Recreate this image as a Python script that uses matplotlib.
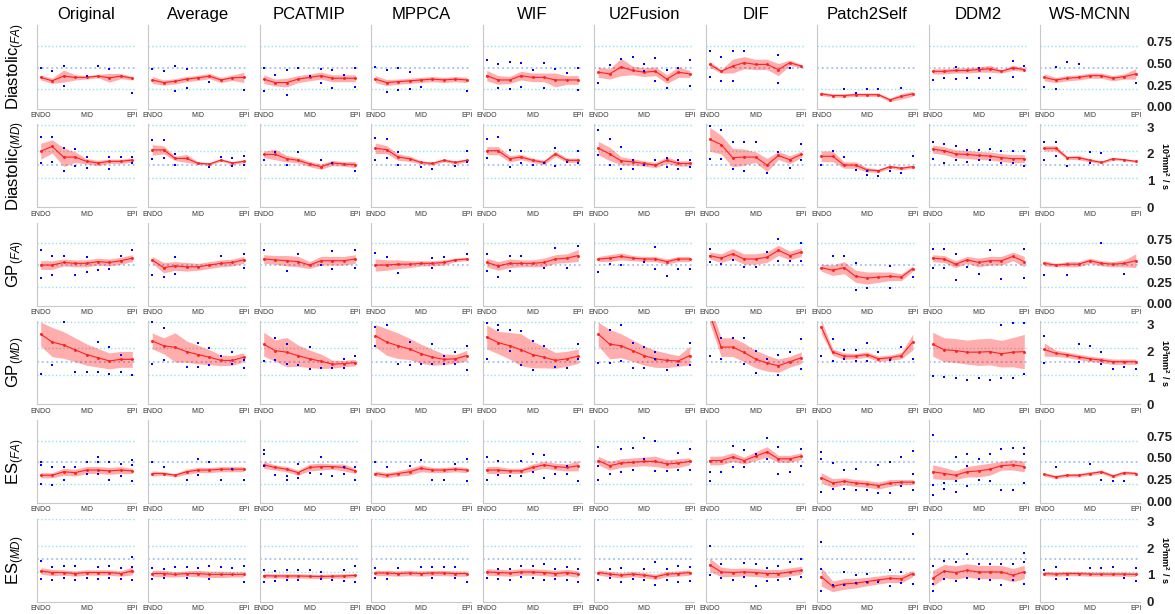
import numpy as np
import matplotlib
matplotlib.use("Agg")
import matplotlib.pyplot as plt

plt.rcParams['font.family'] = ['Liberation Sans', 'DejaVu Sans']
plt.rcParams['mathtext.fontset'] = 'custom'
plt.rcParams['mathtext.rm'] = 'Liberation Sans'
plt.rcParams['mathtext.it'] = 'Liberation Sans:italic'
plt.rcParams['mathtext.bf'] = 'Liberation Sans:bold'

METHODS = ['Original', 'Average', 'PCATMIP', 'MPPCA', 'WIF', 'U2Fusion', 'DIF',
           'Patch2Self', 'DDM2', 'WS-MCNN']
ROW_LABELS = ['Diastolic$_{(FA)}$', 'Diastolic$_{(MD)}$', 'GP$_{(FA)}$', 'GP$_{(MD)}$',
              'ES$_{(FA)}$', 'ES$_{(MD)}$']
ROW_KIND = ['FA', 'MD', 'FA', 'MD', 'FA', 'MD']
POSITIONS = np.arange(9)
XTICK_LABELS = ['ENDO', 'MID', 'EPI']

# reference levels (dotted lines) and right side labels
FA_REF = [0.2, 0.45, 0.7]
MD_REF = [1.1, 1.6, 2.1, 3.1]
FA_TICKS = [0.0, 0.25, 0.5, 0.75]
FA_TICKLABELS = ['0.00', '0.25', '0.50', '0.75']
MD_TICKS = [0, 1, 2, 3]
MD_TICKLABELS = ['0', '1', '2', '3']

# ---- Diastolic FA ----
DIA_FA_MEAN = [
    [0.34, 0.30, 0.355, 0.34, 0.34, 0.355, 0.335, 0.355, 0.33],
    [0.31, 0.28, 0.295, 0.32, 0.335, 0.355, 0.31, 0.335, 0.34],
    [0.32, 0.28, 0.28, 0.32, 0.34, 0.36, 0.33, 0.33, 0.33],
    [0.32, 0.28, 0.29, 0.30, 0.31, 0.32, 0.31, 0.32, 0.31],
    [0.36, 0.31, 0.31, 0.36, 0.34, 0.34, 0.31, 0.31, 0.31],
    [0.40, 0.38, 0.46, 0.42, 0.40, 0.41, 0.32, 0.40, 0.38],
    [0.49, 0.41, 0.47, 0.51, 0.49, 0.49, 0.43, 0.51, 0.47],
    [0.15, 0.13, 0.13, 0.14, 0.14, 0.14, 0.08, 0.12, 0.15],
    [0.41, 0.41, 0.42, 0.42, 0.43, 0.44, 0.41, 0.45, 0.43],
    [0.34, 0.31, 0.33, 0.34, 0.36, 0.36, 0.33, 0.35, 0.38],
]
DIA_FA_STD = [
    [0.03, 0.03, 0.07, 0.03, 0.02, 0.02, 0.05, 0.03, 0.02],
    [0.04, 0.03, 0.03, 0.03, 0.03, 0.03, 0.03, 0.03, 0.06],
    [0.05, 0.04, 0.05, 0.04, 0.04, 0.04, 0.04, 0.04, 0.04],
    [0.04, 0.035, 0.03, 0.03, 0.03, 0.03, 0.03, 0.03, 0.03],
    [0.06, 0.05, 0.04, 0.05, 0.05, 0.05, 0.08, 0.05, 0.05],
    [0.06, 0.06, 0.10, 0.05, 0.05, 0.05, 0.05, 0.06, 0.04],
    [0.035, 0.02, 0.08, 0.07, 0.06, 0.06, 0.07, 0.03, 0.02],
    [0.02, 0.02, 0.02, 0.02, 0.02, 0.02, 0.02, 0.03, 0.03],
    [0.03, 0.03, 0.03, 0.03, 0.03, 0.04, 0.02, 0.03, 0.02],
    [0.04, 0.03, 0.03, 0.03, 0.03, 0.03, 0.03, 0.03, 0.06],
]
DIA_FA_PTS = [
    [(0, .45), (1, .41), (2, .47), (2, .24), (4, .36), (5, .47), (6, .44), (8, .16)],
    [(0, .44), (1, .41), (2, .47), (2, .18), (3, .44), (3, .22), (5, .29), (8, .19)],
    [(0, .45), (0, .18), (1, .37), (2, .42), (2, .14), (3, .45), (4, .36), (5, .44), (5, .28),
     (6, .43), (6, .22), (7, .37), (8, .45), (8, .23)],
    [(0, .46), (1, .43), (1, .17), (2, .45), (2, .19), (3, .40), (3, .21), (4, .23), (8, .18)],
    [(0, .54), (1, .49), (1, .22), (2, .52), (2, .20), (3, .51), (3, .23), (4, .43), (5, .51),
     (5, .22), (6, .44), (7, .39), (8, .45), (8, .19)],
    [(0, .28), (1, .48), (2, .55), (3, .57), (4, .49), (4, .41), (5, .56), (5, .30), (6, .42),
     (6, .22), (7, .45), (8, .54), (8, .24)],
    [(0, .64), (0, .34), (1, .57), (1, .30), (2, .64), (2, .30), (3, .65), (6, .60), (6, .27),
     (7, .45)],
    [(2, .21), (3, .16), (4, .21), (5, .21), (7, .22)],
    [(0, .31), (1, .33), (2, .46), (2, .32), (3, .33), (4, .45), (4, .33), (5, .33), (7, .53),
     (7, .34), (8, .47)],
    [(0, .23), (1, .46), (1, .21), (2, .52), (3, .50), (8, .27)],
]

# ---- Diastolic MD ----
DIA_MD_MEAN = [
    [2.10, 2.28, 1.88, 1.88, 1.72, 1.66, 1.72, 1.72, 1.77],
    [2.15, 2.15, 1.83, 1.83, 1.65, 1.62, 1.77, 1.66, 1.72],
    [1.98, 1.98, 1.82, 1.76, 1.62, 1.52, 1.66, 1.62, 1.60],
    [2.21, 2.16, 1.88, 1.82, 1.68, 1.64, 1.76, 1.68, 1.76],
    [2.12, 2.12, 1.82, 1.88, 1.76, 1.68, 2.00, 1.76, 1.76],
    [2.22, 2.00, 1.74, 1.70, 1.64, 1.58, 1.76, 1.64, 1.64],
    [2.55, 2.35, 1.86, 1.88, 1.88, 1.58, 1.94, 1.78, 1.98],
    [1.91, 1.91, 1.58, 1.58, 1.40, 1.37, 1.52, 1.46, 1.52],
    [2.18, 2.12, 2.00, 1.98, 1.94, 1.92, 1.86, 1.82, 1.82],
    [2.21, 2.21, 1.86, 1.86, 1.76, 1.68, 1.82, 1.78, 1.72],
]
DIA_MD_STD = [
    [0.30, 0.25, 0.35, 0.20, 0.10, 0.10, 0.08, 0.08, 0.08],
    [0.20, 0.15, 0.08, 0.15, 0.05, 0.05, 0.05, 0.05, 0.06],
    [0.12, 0.20, 0.12, 0.10, 0.10, 0.10, 0.10, 0.08, 0.12],
    [0.20, 0.15, 0.12, 0.10, 0.06, 0.06, 0.06, 0.06, 0.06],
    [0.15, 0.15, 0.12, 0.10, 0.08, 0.08, 0.10, 0.08, 0.08],
    [0.25, 0.25, 0.15, 0.12, 0.10, 0.10, 0.12, 0.10, 0.10],
    [0.45, 0.35, 0.35, 0.30, 0.20, 0.25, 0.15, 0.15, 0.12],
    [0.20, 0.20, 0.12, 0.12, 0.08, 0.06, 0.06, 0.06, 0.06],
    [0.15, 0.15, 0.15, 0.15, 0.15, 0.15, 0.15, 0.15, 0.15],
    [0.10, 0.10, 0.06, 0.08, 0.06, 0.05, 0.05, 0.04, 0.04],
]
DIA_MD_PTS = [
    [(0, 2.64), (0, 1.64), (1, 2.64), (1, 1.69), (2, 2.23), (2, 1.34), (3, 2.17), (3, 1.53),
     (4, 1.90), (4, 1.48), (6, 1.87), (6, 1.45), (7, 1.87), (8, 1.87), (8, 1.64)],
    [(0, 2.54), (0, 1.80), (1, 2.54), (1, 1.85), (2, 1.99), (2, 1.60), (5, 1.50), (6, 1.89),
     (7, 1.83), (7, 1.54), (8, 1.93), (8, 1.60)],
    [(0, 1.76), (1, 2.06), (2, 1.58), (3, 2.06), (5, 1.76), (6, 1.64), (8, 1.37)],
    [(0, 2.61), (0, 1.78), (1, 2.57), (1, 1.86), (2, 2.06), (2, 1.60), (4, 1.52), (5, 1.43),
     (7, 1.54), (8, 2.12), (8, 1.70)],
    [(0, 2.55), (0, 1.86), (1, 2.65), (2, 2.16), (2, 1.49), (3, 2.12), (3, 1.64), (4, 1.58),
     (5, 1.64), (6, 2.21), (6, 1.54), (7, 1.70), (8, 2.12), (8, 1.64)],
    [(0, 2.88), (0, 1.94), (1, 2.55), (1, 1.58), (2, 2.25), (2, 1.43), (3, 1.76), (3, 1.42),
     (4, 1.58), (5, 1.76), (6, 1.86), (6, 1.52), (7, 1.76), (7, 1.42), (8, 1.78), (8, 1.52)],
    [(0, 3.03), (0, 1.82), (1, 2.91), (1, 1.82), (2, 2.46), (2, 1.43), (3, 2.46), (3, 1.37),
     (4, 2.43), (5, 1.28), (6, 2.09), (7, 1.46), (8, 2.39), (8, 1.76)],
    [(0, 1.58), (1, 2.12), (2, 1.88), (3, 1.40), (4, 1.34), (4, 1.22), (5, 1.18), (6, 1.37),
     (7, 1.30), (8, 1.91)],
    [(0, 2.46), (0, 1.82), (1, 2.39), (1, 1.66), (2, 2.31), (2, 1.76), (3, 2.16), (3, 1.70),
     (4, 2.16), (4, 1.76), (5, 2.18), (5, 1.76), (6, 2.12), (6, 1.64), (7, 2.12), (7, 1.64),
     (8, 2.12), (8, 1.54)],
    [(0, 2.46), (0, 1.76), (1, 2.46), (1, 1.91), (2, 1.54), (4, 2.09), (4, 1.64), (5, 2.03)],
]

# ---- GP FA ----
GP_FA_MEAN = [
    [0.45, 0.45, 0.48, 0.47, 0.47, 0.49, 0.48, 0.50, 0.53],
    [0.51, 0.42, 0.44, 0.43, 0.43, 0.45, 0.47, 0.48, 0.51],
    [0.52, 0.51, 0.50, 0.49, 0.45, 0.50, 0.50, 0.50, 0.52],
    [0.45, 0.45, 0.46, 0.46, 0.47, 0.47, 0.48, 0.51, 0.52],
    [0.48, 0.44, 0.47, 0.47, 0.47, 0.48, 0.52, 0.53, 0.56],
    [0.52, 0.53, 0.55, 0.53, 0.52, 0.52, 0.49, 0.52, 0.52],
    [0.56, 0.53, 0.58, 0.52, 0.52, 0.54, 0.62, 0.56, 0.60],
    [0.42, 0.39, 0.42, 0.32, 0.30, 0.31, 0.32, 0.31, 0.41],
    [0.53, 0.52, 0.46, 0.51, 0.48, 0.50, 0.50, 0.55, 0.49],
    [0.47, 0.45, 0.46, 0.46, 0.50, 0.47, 0.46, 0.47, 0.50],
]
GP_FA_STD = [
    [0.05, 0.05, 0.04, 0.04, 0.04, 0.04, 0.04, 0.04, 0.04],
    [0.04, 0.06, 0.05, 0.05, 0.04, 0.04, 0.04, 0.04, 0.04],
    [0.05, 0.05, 0.06, 0.06, 0.04, 0.05, 0.05, 0.05, 0.05],
    [0.07, 0.06, 0.05, 0.04, 0.03, 0.03, 0.03, 0.02, 0.02],
    [0.05, 0.05, 0.05, 0.04, 0.04, 0.05, 0.05, 0.05, 0.07],
    [0.03, 0.04, 0.04, 0.03, 0.03, 0.03, 0.03, 0.03, 0.03],
    [0.04, 0.05, 0.06, 0.06, 0.06, 0.06, 0.06, 0.05, 0.05],
    [0.04, 0.06, 0.07, 0.07, 0.07, 0.06, 0.05, 0.04, 0.03],
    [0.04, 0.04, 0.04, 0.04, 0.05, 0.05, 0.05, 0.05, 0.06],
    [0.03, 0.02, 0.03, 0.03, 0.03, 0.03, 0.03, 0.04, 0.08],
]
GP_FA_PTS = [
    [(0, .63), (0, .30), (1, .55), (1, .34), (2, .56), (3, .33), (4, .54), (4, .37), (5, .39),
     (6, .40), (7, .56), (8, .62)],
    [(0, .34), (1, .31), (2, .54), (2, .35), (6, .56), (8, .58), (8, .42)],
    [(0, .63), (2, .38), (3, .58), (5, .45), (6, .61), (6, .41), (8, .63), (8, .42)],
    [(0, .59), (1, .54), (2, .36), (5, .53), (5, .42), (6, .54), (8, .58)],
    [(0, .58), (0, .38), (1, .31), (2, .56), (2, .38), (3, .56), (5, .42), (6, .65), (7, .42),
     (8, .67)],
    [(0, .37), (1, .46), (2, .45), (4, .48), (5, .66), (5, .41), (6, .32), (7, .40), (8, .40)],
    [(0, .64), (0, .49), (1, .46), (2, .51), (3, .43), (4, .43), (5, .60), (6, .75), (6, .50),
     (7, .50), (8, .70), (8, .50)],
    [(1, .55), (2, .55), (3, .47), (3, .16), (4, .18), (6, .44), (6, .18), (8, .31)],
    [(0, .64), (0, .42), (1, .64), (1, .42), (2, .58), (2, .28), (3, .43), (4, .35), (5, .62),
     (6, .29), (8, .64), (8, .30)],
    [(0, .34), (2, .34), (5, .70), (7, .35)],
]

# ---- GP MD ----
GP_MD_MEAN = [
    [2.64, 2.34, 2.23, 2.05, 1.87, 1.75, 1.63, 1.69, 1.69],
    [2.38, 2.20, 2.14, 1.98, 1.87, 1.77, 1.65, 1.65, 1.77],
    [2.26, 2.02, 1.96, 1.83, 1.71, 1.62, 1.51, 1.53, 1.57],
    [2.58, 2.34, 2.20, 2.08, 1.90, 1.77, 1.69, 1.71, 1.83],
    [2.53, 2.32, 2.20, 2.05, 1.87, 1.77, 1.65, 1.71, 1.81],
    [2.64, 2.26, 2.20, 2.02, 1.83, 1.71, 1.65, 1.63, 1.83],
    [3.40, 2.15, 2.15, 1.95, 1.70, 1.55, 1.45, 1.60, 1.75],
    [2.92, 1.96, 1.81, 1.81, 1.87, 1.71, 1.75, 1.83, 2.34],
    [2.26, 2.05, 2.02, 1.96, 1.96, 1.98, 1.90, 1.96, 1.98],
    [2.06, 1.92, 1.86, 1.78, 1.71, 1.66, 1.60, 1.60, 1.60],
]
GP_MD_STD = [
    [0.45, 0.55, 0.50, 0.45, 0.40, 0.35, 0.30, 0.30, 0.30],
    [0.30, 0.30, 0.55, 0.40, 0.35, 0.28, 0.20, 0.18, 0.17],
    [0.45, 0.40, 0.55, 0.40, 0.33, 0.27, 0.15, 0.12, 0.12],
    [0.42, 0.50, 0.48, 0.40, 0.36, 0.30, 0.20, 0.16, 0.20],
    [0.45, 0.42, 0.50, 0.60, 0.50, 0.40, 0.30, 0.28, 0.27],
    [0.45, 0.55, 0.45, 0.40, 0.36, 0.32, 0.27, 0.20, 0.35],
    [0.35, 0.35, 0.35, 0.35, 0.33, 0.30, 0.25, 0.20, 0.22],
    [0.25, 0.12, 0.12, 0.10, 0.10, 0.10, 0.10, 0.12, 0.30],
    [0.45, 0.45, 0.45, 0.45, 0.50, 0.50, 0.50, 0.55, 0.65],
    [0.25, 0.12, 0.10, 0.10, 0.10, 0.10, 0.10, 0.10, 0.10],
]
GP_MD_PTS = [
    [(0, 1.14), (1, 1.47), (2, 3.10), (3, 1.23), (4, 1.21), (5, 1.21), (5, 2.34), (6, 2.14),
     (6, 1.14), (7, 1.21), (7, 1.87), (8, 1.09)],
    [(0, 3.10), (0, 1.53), (1, 2.86), (1, 1.65), (3, 1.41), (4, 1.41), (4, 2.29), (5, 2.10),
     (5, 1.47), (6, 1.83), (7, 1.96), (7, 1.53), (8, 1.65), (8, 1.35)],
    [(0, 1.62), (1, 2.50), (1, 1.65), (2, 2.26), (2, 1.50), (3, 1.47), (4, 2.14), (4, 1.33),
     (5, 1.38), (6, 1.38), (7, 1.71), (7, 1.38), (8, 1.83)],
    [(0, 2.92), (0, 2.20), (1, 2.98), (2, 1.50), (3, 2.34), (3, 1.47), (4, 1.50), (5, 2.26),
     (5, 1.50), (6, 1.50), (6, 1.83), (7, 1.96), (7, 1.50), (8, 2.20), (8, 1.29)],
    [(0, 3.06), (0, 1.71), (1, 2.98), (1, 2.80), (2, 2.80), (2, 2.02), (3, 2.74), (3, 1.47),
     (4, 2.38), (4, 1.29), (5, 2.20), (6, 1.41), (7, 1.38), (8, 2.26), (8, 1.71)],
    [(0, 1.57), (1, 2.80), (1, 1.57), (2, 2.98), (2, 1.62), (3, 2.32), (3, 1.35), (4, 2.14),
     (4, 1.35), (5, 1.71), (5, 1.96), (6, 1.29), (7, 1.47), (8, 2.32), (8, 1.47)],
    [(0, 1.83), (1, 2.50), (1, 1.71), (2, 2.50), (3, 2.50), (3, 1.53), (4, 2.02), (4, 1.17),
     (5, 1.71), (6, 1.09), (6, 1.86), (7, 1.96), (8, 2.44), (8, 1.33)],
    [(0, 1.83), (1, 2.44), (1, 1.62), (2, 2.05), (2, 1.71), (3, 2.05), (3, 1.62), (4, 2.32),
     (4, 1.62), (5, 1.96), (6, 1.65), (7, 2.14), (8, 1.71)],
    [(0, 1.05), (1, 1.02), (2, 1.00), (3, 0.93), (4, 0.97), (5, 0.93), (6, 1.00), (6, 2.98),
     (7, 1.00), (7, 3.06), (8, 1.14), (8, 3.04)],
    [(0, 2.58), (0, 1.56), (3, 2.25), (3, 1.59), (4, 2.18), (5, 1.98), (5, 1.50), (6, 1.33),
     (7, 1.39), (8, 1.33)],
]

# ---- ES FA ----
ES_FA_MEAN = [
    [0.30, 0.30, 0.34, 0.33, 0.36, 0.36, 0.35, 0.36, 0.35],
    [0.32, 0.32, 0.30, 0.34, 0.36, 0.36, 0.37, 0.37, 0.37],
    [0.42, 0.39, 0.37, 0.33, 0.39, 0.40, 0.40, 0.39, 0.35],
    [0.32, 0.30, 0.32, 0.34, 0.38, 0.36, 0.36, 0.37, 0.36],
    [0.36, 0.36, 0.35, 0.35, 0.39, 0.42, 0.40, 0.39, 0.41],
    [0.47, 0.41, 0.44, 0.45, 0.46, 0.46, 0.43, 0.44, 0.46],
    [0.47, 0.47, 0.51, 0.47, 0.52, 0.57, 0.49, 0.49, 0.52],
    [0.27, 0.21, 0.23, 0.21, 0.20, 0.18, 0.21, 0.22, 0.22],
    [0.34, 0.32, 0.30, 0.34, 0.35, 0.37, 0.41, 0.42, 0.40],
    [0.31, 0.28, 0.30, 0.30, 0.32, 0.34, 0.29, 0.33, 0.32],
]
ES_FA_STD = [
    [0.03, 0.03, 0.04, 0.04, 0.04, 0.04, 0.04, 0.04, 0.03],
    [0.03, 0.02, 0.02, 0.03, 0.03, 0.03, 0.03, 0.03, 0.03],
    [0.04, 0.03, 0.03, 0.03, 0.04, 0.04, 0.03, 0.04, 0.03],
    [0.03, 0.03, 0.03, 0.04, 0.04, 0.03, 0.03, 0.03, 0.03],
    [0.04, 0.04, 0.03, 0.03, 0.04, 0.04, 0.04, 0.04, 0.06],
    [0.05, 0.05, 0.05, 0.05, 0.05, 0.06, 0.05, 0.05, 0.04],
    [0.05, 0.05, 0.05, 0.04, 0.05, 0.06, 0.04, 0.04, 0.04],
    [0.06, 0.05, 0.04, 0.04, 0.04, 0.04, 0.04, 0.03, 0.03],
    [0.08, 0.07, 0.05, 0.06, 0.07, 0.07, 0.05, 0.06, 0.06],
    [0.02, 0.02, 0.02, 0.02, 0.02, 0.02, 0.02, 0.02, 0.02],
]
ES_FA_PTS = [
    [(0, .45), (0, .42), (0, .20), (1, .40), (1, .19), (2, .39), (2, .25), (3, .40), (4, .45),
     (4, .31), (5, .51), (5, .45), (5, .31), (6, .45), (6, .25), (7, .43), (7, .29), (8, .48),
     (8, .42), (8, .23)],
    [(0, .45), (1, .39), (3, .25), (4, .49), (4, .30), (5, .45), (6, .25), (7, .37), (8, .25)],
    [(0, .59), (0, .55), (0, .41), (1, .30), (2, .29), (2, .25), (3, .43), (3, .27), (4, .33),
     (5, .51), (5, .32), (6, .29), (7, .39), (7, .31), (8, .39), (8, .25)],
    [(0, .45), (1, .39), (3, .41), (4, .48), (5, .25), (6, .25), (7, .43), (8, .49), (8, .23)],
    [(0, .51), (0, .25), (1, .47), (1, .30), (2, .29), (3, .47), (3, .29), (4, .54), (4, .34),
     (5, .53), (5, .27), (6, .32), (7, .41), (7, .32), (8, .23)],
    [(0, .63), (0, .41), (0, .25), (1, .31), (2, .60), (2, .34), (3, .61), (3, .36), (4, .73),
     (4, .49), (5, .70), (5, .35), (6, .35), (7, .56), (7, .36), (8, .60), (8, .36)],
    [(0, .34), (0, .23), (1, .34), (2, .64), (2, .39), (3, .59), (3, .39), (4, .55), (5, .73),
     (5, .49), (6, .63), (6, .31), (7, .34), (8, .60), (8, .41)],
    [(0, .57), (0, .49), (0, .11), (1, .44), (1, .14), (2, .36), (2, .14), (3, .37), (3, .13),
     (4, .13), (5, .42), (5, .09), (6, .45), (6, .10), (7, .51), (7, .17), (8, .58), (8, .32),
     (8, .13)],
    [(0, .77), (0, .19), (0, .07), (1, .21), (1, .14), (2, .51), (2, .23), (2, .11), (3, .55),
     (3, .41), (3, .18), (4, .49), (4, .25), (5, .55), (5, .23), (6, .60), (6, .13), (7, .62),
     (7, .13), (8, .61), (8, .55), (8, .21)],
    [(1, .39), (4, .43), (5, .25), (6, .23), (7, .23)],
]

# ---- ES MD ----
ES_MD_MEAN = [
    [1.15, 1.09, 1.09, 1.05, 1.09, 1.09, 1.09, 1.05, 1.15],
    [1.05, 1.05, 1.02, 1.05, 1.05, 1.02, 1.02, 1.02, 1.02],
    [0.97, 0.96, 0.96, 0.96, 0.95, 0.94, 0.95, 0.96, 0.98],
    [1.07, 1.07, 1.05, 1.07, 1.05, 1.07, 1.07, 1.05, 1.05],
    [1.11, 1.09, 1.07, 1.11, 1.11, 1.09, 1.05, 1.09, 1.03],
    [1.09, 1.03, 0.99, 1.03, 0.99, 0.93, 1.03, 1.05, 1.09],
    [1.38, 1.11, 1.09, 1.11, 1.09, 1.05, 1.05, 1.11, 1.17],
    [0.93, 0.57, 0.66, 0.69, 0.75, 0.81, 0.87, 0.85, 1.05],
    [0.87, 1.14, 1.09, 1.17, 1.11, 1.11, 1.11, 0.99, 1.11],
    [1.05, 1.03, 1.05, 1.05, 1.03, 1.03, 1.03, 1.03, 1.02],
]
ES_MD_STD = [
    [0.12, 0.12, 0.10, 0.10, 0.10, 0.10, 0.10, 0.10, 0.15],
    [0.12, 0.12, 0.10, 0.10, 0.12, 0.12, 0.12, 0.10, 0.10],
    [0.08, 0.08, 0.08, 0.08, 0.08, 0.08, 0.08, 0.08, 0.08],
    [0.10, 0.10, 0.10, 0.10, 0.10, 0.10, 0.10, 0.10, 0.10],
    [0.12, 0.12, 0.12, 0.12, 0.12, 0.12, 0.12, 0.12, 0.12],
    [0.10, 0.10, 0.10, 0.10, 0.10, 0.10, 0.10, 0.10, 0.10],
    [0.25, 0.18, 0.15, 0.15, 0.15, 0.15, 0.15, 0.15, 0.15],
    [0.35, 0.20, 0.20, 0.18, 0.16, 0.15, 0.15, 0.15, 0.12],
    [0.30, 0.25, 0.25, 0.25, 0.25, 0.25, 0.25, 0.25, 0.25],
    [0.08, 0.08, 0.08, 0.08, 0.08, 0.08, 0.08, 0.08, 0.08],
]
ES_MD_PTS = [
    [(0, 1.53), (0, 0.83), (1, 1.29), (1, 0.81), (2, 1.33), (2, 0.87), (3, 1.32), (3, 0.81),
     (4, 0.87), (5, 1.29), (5, 0.85), (6, 1.33), (6, 0.87), (7, 1.26), (7, 0.85), (8, 1.69),
     (8, 1.29), (8, 0.81)],
    [(0, 1.26), (0, 0.85), (1, 1.23), (1, 0.87), (2, 1.29), (3, 1.29), (3, 0.87), (4, 1.26),
     (5, 1.33), (5, 0.85), (6, 1.29), (7, 1.26), (8, 1.33), (8, 0.73)],
    [(0, 1.17), (0, 0.73), (1, 1.14), (1, 0.77), (2, 1.17), (2, 0.81), (3, 1.17), (3, 0.81),
     (4, 1.17), (5, 1.11), (5, 0.85), (6, 0.81), (7, 1.17), (7, 0.77), (8, 1.35), (8, 0.75)],
    [(0, 1.26), (0, 0.87), (1, 0.85), (2, 1.26), (4, 1.29), (5, 1.29), (5, 0.87), (6, 1.29),
     (7, 1.29), (7, 0.87), (8, 0.75)],
    [(0, 0.87), (1, 1.23), (1, 0.85), (2, 1.21), (2, 0.81), (3, 1.35), (3, 0.93), (4, 1.33),
     (4, 0.87), (5, 1.41), (5, 0.81), (6, 1.21), (6, 0.85), (7, 1.29), (7, 0.81), (8, 1.23),
     (8, 0.73)],
    [(0, 0.81), (1, 1.23), (1, 0.87), (2, 1.26), (2, 0.73), (3, 0.85), (4, 1.23), (4, 0.81),
     (5, 1.47), (5, 0.61), (6, 1.23), (6, 0.81), (7, 1.33), (7, 0.75), (8, 1.29), (8, 0.77)],
    [(0, 2.10), (0, 0.99), (1, 1.41), (1, 0.87), (2, 0.81), (3, 1.45), (3, 0.93), (4, 1.41),
     (4, 0.57), (5, 1.26), (5, 0.77), (6, 1.33), (6, 0.81), (7, 1.47), (7, 0.85), (8, 1.59),
     (8, 0.93)],
    [(0, 2.22), (0, 1.23), (0, 0.41), (1, 0.63), (2, 1.11), (2, 0.63), (3, 0.99), (3, 0.69),
     (4, 1.05), (4, 0.75), (5, 0.73), (6, 1.20), (6, 0.57), (7, 1.11), (7, 0.69), (8, 2.53),
     (8, 0.66)],
    [(0, 1.33), (0, 0.66), (0, 0.39), (1, 1.53), (1, 0.85), (2, 1.47), (2, 0.77), (3, 1.77),
     (3, 0.87), (4, 1.41), (4, 0.85), (5, 1.41), (5, 0.81), (6, 1.41), (6, 0.61), (7, 1.41),
     (7, 0.81), (8, 1.83), (8, 1.47), (8, 0.66)],
    [(0, 1.17), (1, 1.29), (1, 0.85), (2, 0.85), (4, 1.26), (5, 1.26), (6, 1.29), (7, 0.87),
     (8, 1.26), (8, 0.77)],
]

ROW_MEANS = [DIA_FA_MEAN, DIA_MD_MEAN, GP_FA_MEAN, GP_MD_MEAN, ES_FA_MEAN, ES_MD_MEAN]
ROW_STDS = [DIA_FA_STD, DIA_MD_STD, GP_FA_STD, GP_MD_STD, ES_FA_STD, ES_MD_STD]
ROW_PTS = [DIA_FA_PTS, DIA_MD_PTS, GP_FA_PTS, GP_MD_PTS, ES_FA_PTS, ES_MD_PTS]

# layout in pixels of the 1175x614 canvas
W, H = 1175, 614
COL_LEFT, COL_STEP, PANEL_W = 36.7, 111.5, 99.6
ROW_BOTTOM, ROW_STEP, PANEL_H = 108.5, 98.6, 83

CYAN = '#8fe3ec'
LBLUE = '#9fc0f2'
GRID_GREY = '#c8c8c8'

fig = plt.figure(figsize=(W / 100, H / 100), dpi=100)

for i in range(6):
    kind = ROW_KIND[i]
    for j in range(10):
        left = (COL_LEFT + COL_STEP * j) / W
        bottom = 1 - (ROW_BOTTOM + ROW_STEP * i) / H
        ax = fig.add_axes([left, bottom, PANEL_W / W, PANEL_H / H])

        mean = np.array(ROW_MEANS[i][j])
        std = np.array(ROW_STDS[i][j])
        pts = ROW_PTS[i][j]

        # reference levels
        refs = FA_REF if kind == 'FA' else MD_REF
        mid_ref = 0.45 if kind == 'FA' else 1.6
        for r in refs:
            col = LBLUE if r == mid_ref else CYAN
            lw = 1.3 if r == mid_ref else 1.0
            ax.axhline(r, color=col, lw=lw, ls=':', zorder=1)

        ax.fill_between(POSITIONS, mean - std, mean + std, color='red', alpha=0.32,
                        linewidth=0, zorder=2)
        ax.plot(POSITIONS, mean, color='#ff2020', lw=0.8, marker='.', ms=2.2, zorder=3)
        if pts:
            px = [p[0] for p in pts]
            py = [p[1] for p in pts]
            ax.scatter(px, py, s=4.5, color='blue', marker='s', linewidths=0, zorder=4)

        ax.set_xlim(-0.35, 8.35)
        if kind == 'FA':
            ax.set_ylim(-0.02, 0.94)
        else:
            ax.set_ylim(0, 3.12)

        for s in ['top', 'right']:
            ax.spines[s].set_visible(False)
        for s in ['left', 'bottom']:
            ax.spines[s].set_color(GRID_GREY)
            ax.spines[s].set_linewidth(0.8)

        ax.set_xticks([0, 4, 8])
        ax.set_xticklabels(XTICK_LABELS, fontsize=5, color='#333333')
        ax.tick_params(axis='x', length=0, pad=2.5)

        if j == 9:
            ax.yaxis.tick_right()
            if kind == 'FA':
                ax.set_yticks(FA_TICKS)
                ax.set_yticklabels(FA_TICKLABELS, fontsize=9.5, fontweight='bold',
                                   color='#222222')
            else:
                ax.set_yticks(MD_TICKS)
                ax.set_yticklabels(MD_TICKLABELS, fontsize=9.5, fontweight='bold',
                                   color='#222222')
                ax.text(1.25, 0.5, r'10$^\mathbf{3}$mm$^\mathbf{2}$ / s', transform=ax.transAxes,
                        rotation=270, ha='center', va='center', fontsize=6.5,
                        fontweight='bold')
            ax.tick_params(axis='y', length=0, pad=5)
        else:
            ax.set_yticks([])

        if j == 0:
            ax.set_ylabel(ROW_LABELS[i], fontsize=12, labelpad=7)
        if i == 0:
            ax.set_title(METHODS[j], fontsize=12, pad=5)

plt.savefig('out.png', dpi=100)
